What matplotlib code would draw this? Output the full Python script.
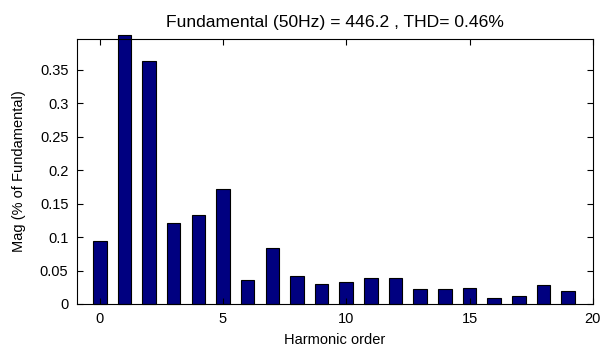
import matplotlib.pyplot as plt
import numpy as np
from matplotlib.ticker import FuncFormatter

# harmonic spectrum
orders = np.arange(0, 20)
mags = [0.0936, 0.402, 0.363, 0.121, 0.1325, 0.1725, 0.0353, 0.0837, 0.0413, 0.030,
        0.0333, 0.0393, 0.0393, 0.0224, 0.0224, 0.0239, 0.0084, 0.0124, 0.0278, 0.0199]
xticks = [0, 5, 10, 15, 20]
yticks = [0, 0.05, 0.1, 0.15, 0.2, 0.25, 0.3, 0.35]
title = 'Fundamental (50Hz) = 446.2 , THD= 0.46%'

plt.rcParams['font.family'] = ['Liberation Sans', 'DejaVu Sans']
plt.rcParams['font.size'] = 10.5

fig = plt.figure(figsize=(6, 3.49), dpi=100)
ax = fig.add_axes([0.128, 0.129, 0.86, 0.759])

bars = ax.bar(orders, mags, width=0.55, color='#000080', edgecolor='black', linewidth=0.8)
for b in bars:
    b.set_clip_on(False)

ax.set_xlim(-0.93, 20)
ax.set_ylim(0, 0.396)
ax.set_xticks(xticks)
ax.set_yticks(yticks)
ax.yaxis.set_major_formatter(FuncFormatter(lambda v, p: '%g' % v))
ax.tick_params(direction='in', top=True, right=True, length=4, width=0.8, pad=6)
for s in ax.spines.values():
    s.set_linewidth(0.8)

ax.set_title(title, pad=9)
ax.set_xlabel('Harmonic order', labelpad=5)
ax.set_ylabel('Mag (% of Fundamental)', labelpad=10)

fig.savefig('out.png', dpi=100)
